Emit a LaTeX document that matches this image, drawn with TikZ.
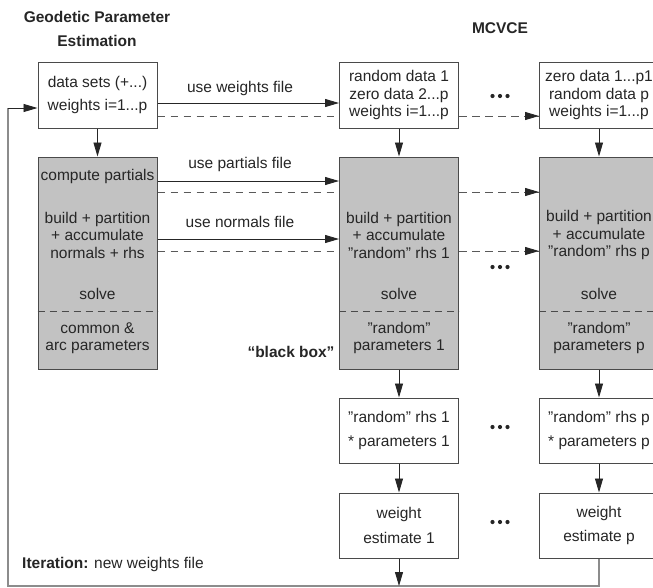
\documentclass[tikz,border=0pt]{standalone}
\usepackage{fontspec}
\setmainfont{Liberation Sans}
\usetikzlibrary{calc,arrows.meta}
\definecolor{boxgray}{HTML}{C2C2C2}
\definecolor{edgec}{HTML}{4A4A4A}
\definecolor{txtc}{HTML}{262626}
\definecolor{loopc}{HTML}{8C8C8C}
\newcommand{\fsz}{\fontsize{15.5}{17.5}\selectfont}
\newcommand{\qq}{\symbol{34}}
\tikzset{
  wbox/.style={draw=edgec, line width=1pt, fill=white, minimum width=119pt, minimum height=66pt, inner sep=0pt, font=\fsz, text=txtc, align=center},
  gbox/.style={draw=edgec, line width=1pt, fill=boxgray, minimum width=119pt, minimum height=212pt, inner sep=0pt},
  txt/.style={font=\fsz, text=txtc, align=center, inner sep=0pt},
  tip/.style={-{Triangle[length=14pt,width=8pt]}},
  arr/.style={tip, line width=0.9pt, draw=black!85},
  dsh/.style={dash pattern=on 7.5pt off 5.5pt, line width=0.9pt, draw=black!65},
  dotc/.style={fill=txtc},
}
\begin{document}
\begin{tikzpicture}[x=1pt,y=-1pt]
\useasboundingbox (0,0) rectangle (653,587);
\clip (0,0) rectangle (653,587);
\fill[white] (0,0) rectangle (653,587);
% titles
\node[txt,font=\fsz\bfseries] (t1) at (97,17) {Geodetic Parameter};
\node[txt,font=\fsz\bfseries] (t2) at (97,41) {Estimation};
\node[txt,font=\fsz\bfseries] (t3) at (500,28) {MCVCE};
% top boxes
\node[wbox] (b1) at (97.5,95) {data sets (+...)\\[6pt]weights i=1...p};
\node[wbox] (b2) at (399,95) {random data 1\\zero data 2...p\\weights i=1...p};
\node[wbox] (b3) at (599,95) {zero data 1...p1\\random data p\\weights i=1...p};
% gray boxes
\node[gbox] (g1) at (97.5,263) {};
\node[gbox] (g2) at (399,263) {};
\node[gbox] (g3) at (599,263) {};
\foreach \b in {g1,g2,g3}{
  \draw[dash pattern=on 7pt off 5pt, line width=0.9pt, draw=edgec] ($(\b.west)+(0,48)$) -- ($(\b.east)+(0,48)$);
}
% gray box 1 text
\node[txt] (c1) at (97.5,176) {compute partials};
\node[txt] (c2) at (97.5,235) {build + partition\\+ accumulate\\normals + rhs};
\node[txt] (c3) at (97.5,294) {solve};
\node[txt] (c4) at (97.5,338) {common \&\\arc parameters};
% gray box 2 text
\node[txt] (d2) at (399,235) {build + partition\\+ accumulate\\\qq random\qq{} rhs 1};
\node[txt] (d3) at (399,294) {solve};
\node[txt] (d4) at (399,338) {\qq random\qq\\parameters 1};
% gray box 3 text
\node[txt] (e2) at (599,235) {build + partition\\+ accumulate\\\qq random\qq{} rhs p};
\node[txt] (e3) at (599,294) {solve};
\node[txt] (e4) at (599,338) {\qq random\qq\\parameters p};
% lower boxes
\node[wbox, minimum height=65pt] (r1) at (399,430.5) {\qq random\qq{} rhs 1\\[6pt]* parameters 1};
\node[wbox, minimum height=65pt] (r3) at (599,430.5) {\qq random\qq{} rhs p\\[6pt]* parameters p};
\node[wbox, minimum height=65pt] (w1) at (399,525.5) {weight\\[7pt]estimate 1};
\node[wbox, minimum height=65pt] (w3) at (599,525.5) {weight\\[7pt]estimate p};
% labels
\node[txt] (l1) at (240,88) {use weights file};
\node[txt] (l2) at (240,164) {use partials file};
\node[txt] (l3) at (240,222) {use normals file};
\node[txt,font=\fsz\bfseries] (bb) at (291,352) {``black box''};
\node[txt,anchor=west] (it) at (22,564) {\textbf{Iteration:} new weights file};
% dots
\foreach \yy in {96,267,427,522}{
  \foreach \xx in {492.5,500,507.5}{
    \fill[dotc] (\xx,\yy) circle (2.1pt);
  }
}
% vertical arrows
\draw[arr] (b1) -- (g1);
\draw[arr] (b2) -- (g2);
\draw[arr] (b3) -- (g3);
\draw[arr] (g2) -- (r1);
\draw[arr] (g3) -- (r3);
\draw[arr] (r1) -- (w1);
\draw[arr] (r3) -- (w3);
% horizontal connectors
\draw[arr] ($(b1.east)+(0,8)$) -- ($(b2.west)+(0,8)$);
\draw[dsh] ($(b1.east)+(0,21)$) -- ($(b2.west)+(0,21)$);
\draw[dsh] ($(b2.east)+(0,21)$) -- ($(b3.west)+(0,21)$);
\draw[tip, line width=0.9pt, black!85] ($(b3.west)+(-14,21)$) -- ($(b3.west)+(0,21)$);
\foreach \dy in {-82,-24}{
  \draw[arr] ($(g1.east)+(0,\dy)$) -- ($(g2.west)+(0,\dy)$);
}
\foreach \dy in {-71,-12}{
  \draw[dsh] ($(g1.east)+(0,\dy)$) -- ($(g2.west)+(0,\dy)$);
  \draw[dsh] ($(g2.east)+(0,\dy)$) -- ($(g3.west)+(0,\dy)$);
  \draw[tip, line width=0.9pt, black!85] ($(g3.west)+(-14,\dy)$) -- ($(g3.west)+(0,\dy)$);
}
% iteration loop
\coordinate (lb) at (8,586);
\coordinate (lt) at (8,108);
\draw[loopc, line width=1.6pt] (w3.south) -- (w3.south |- lb) -- (lb) -- (lt);
\draw[arr] (lt) -- (b1.west |- lt);
\draw[arr] (w1) -- (w1.south |- lb);
\end{tikzpicture}
\end{document}
